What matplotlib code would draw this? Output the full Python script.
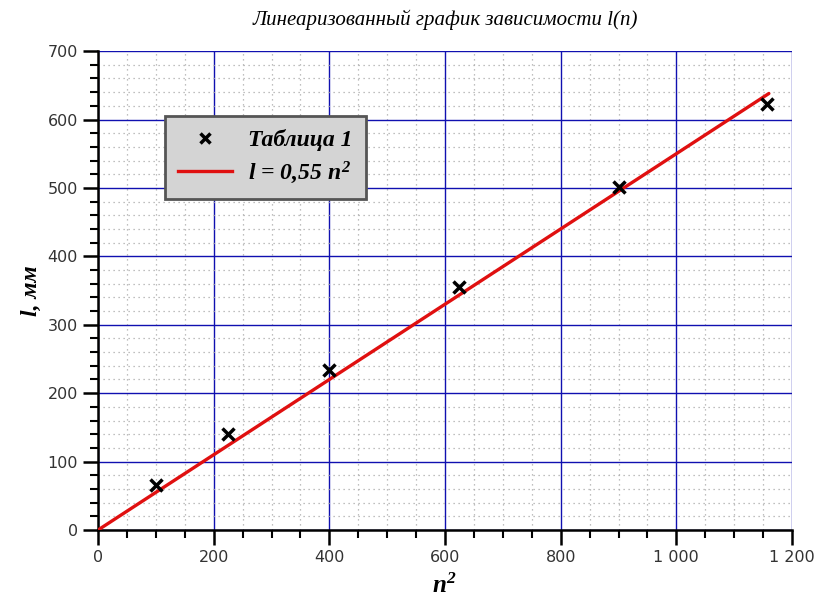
import matplotlib.pyplot as plt
from matplotlib.ticker import MultipleLocator, FuncFormatter

# data
n_sq = [100, 225, 400, 625, 900, 1156]
l_mm = [66, 140, 234, 355, 502, 622]
k_fit = 0.55
fit_x = [0, 1160]
fit_y = [k_fit * x for x in fit_x]

serif = 'Liberation Serif'
plt.rcParams['mathtext.fontset'] = 'custom'
plt.rcParams['mathtext.it'] = 'Liberation Serif:bold:italic'
plt.rcParams['mathtext.rm'] = 'Liberation Serif:bold:italic'
plt.rcParams['mathtext.bf'] = 'Liberation Serif:bold:italic'

fig = plt.figure(figsize=(8.25, 6.01), dpi=100)
ax = fig.add_axes([0.1188, 0.1181, 0.8412, 0.7969])

ax.plot(fit_x, fit_y, color='#e01010', lw=2.4, solid_capstyle='round', zorder=3)
ax.plot(n_sq, l_mm, 'x', color='black', ms=8, mew=2.5, zorder=4)

ax.set_xlim(0, 1200)
ax.set_ylim(0, 700)
ax.xaxis.set_major_locator(MultipleLocator(200))
ax.xaxis.set_minor_locator(MultipleLocator(50))
ax.yaxis.set_major_locator(MultipleLocator(100))
ax.yaxis.set_minor_locator(MultipleLocator(20))
ax.xaxis.set_major_formatter(FuncFormatter(lambda v, p: f'{int(v):,}'.replace(',', ' ')))

ax.grid(which='major', color='#1010b0', lw=1.0)
ax.grid(which='minor', color='#aaaaaa', lw=0.9, ls=(0, (1, 3)))
ax.set_axisbelow(True)

for s in ['top', 'right']:
    ax.spines[s].set_visible(False)
for s in ['left', 'bottom']:
    ax.spines[s].set_linewidth(1.8)
ax.tick_params(which='major', length=11, width=1.8, labelsize=11.5, labelcolor='#333333')
ax.tick_params(which='minor', length=6, width=1.5)

ax.set_title('Линеаризованный график зависимости l(n)', fontfamily=serif,
             style='italic', fontsize=15, pad=19)
ax.set_xlabel('$n^2$', fontsize=18, labelpad=6)
ax.set_ylabel('l, мм', fontfamily=serif, style='italic', weight='bold', fontsize=17, labelpad=4)

h1, = ax.plot([], [], 'x', color='black', ms=7, mew=2.5)
h2, = ax.plot([], [], color='#e01010', lw=2.4)
leg = ax.legend([h1, h2], ['Таблица 1', 'l = 0,55 $n^2$'], loc='upper left',
                bbox_to_anchor=(0.096, 0.864), frameon=True, fancybox=False,
                prop={'family': serif, 'style': 'italic', 'weight': 'bold', 'size': 17},
                handlelength=2.3, borderpad=0.55, labelspacing=0.35, handletextpad=0.7,
                borderaxespad=0)
leg.get_frame().set_facecolor('#d4d4d4')
leg.get_frame().set_edgecolor('#555555')
leg.get_frame().set_linewidth(2)
leg.get_frame().set_alpha(1)

fig.savefig('out.png', dpi=100)
